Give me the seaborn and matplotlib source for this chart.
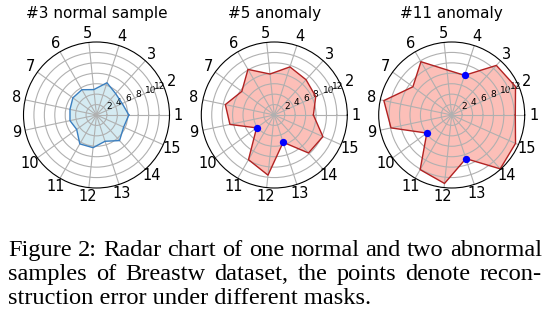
import numpy as np
import matplotlib
matplotlib.use("Agg")
import matplotlib.pyplot as plt
import seaborn as sns

# ---------------- data ----------------
dims = [str(i) for i in range(1, 16)]
normal_3 = [6.2, 5.4, 5.5, 6.5, 4.9, 5.6, 5.6, 5.2, 5.2, 4.7, 6.4, 6.3, 5.3, 6.6, 5.7]
anomaly_5 = [7.5, 8.7, 9.1, 9.7, 7.9, 10.1, 7.7, 9.6, 8.7, 4.2, 9.9, 11.6, 5.5, 9.8, 10.2]
anomaly_11 = [12.2, 13.4, 12.8, 8.0, 8.7, 11.8, 9.2, 13.3, 11.9, 5.9, 12.1, 13.2, 8.8, 13.9, 13.4]
dots_5 = [10, 13]          # 1-based masks marked with points
dots_11 = [4, 10, 13]
titles = ["#3 normal sample", "#5 anomaly", "#11 anomaly"]
r_ticks = [2, 4, 6, 8, 10, 12]
r_max = 14
caption_lines = [
    "Figure 2: Radar chart of one normal and two abnormal",
    "samples of Breastw dataset, the points denote recon-",
    "struction error under different masks.",
]

series = [normal_3, anomaly_5, anomaly_11]
dot_sets = [[], dots_5, dots_11]
fill_colors = [("lightblue", 0.5), ("salmon", 0.5), ("salmon", 0.5)]
edge_colors = ["#3b7fc0", "firebrick", "firebrick"]

W, H = 550, 322
fig = plt.figure(figsize=(W / 100, H / 100), dpi=100)
fig.patch.set_facecolor("white")

angles = np.linspace(0, 2 * np.pi, len(dims), endpoint=False)
centers_x = [96.5, 274.3, 451.7]
center_y = 115
R = 73

for k in range(3):
    cx = centers_x[k]
    ax = fig.add_axes([(cx - R) / W, (H - center_y - R) / H, 2 * R / W, 2 * R / H],
                      projection="polar")
    vals = np.array(series[k])
    th = np.concatenate([angles, angles[:1] + 2 * np.pi])
    rr = np.concatenate([vals, vals[:1]])
    fc, fa = fill_colors[k]
    ax.fill(th, rr, color=fc, alpha=fa, zorder=1, linewidth=0)
    sns.lineplot(x=th, y=rr, ax=ax, color=edge_colors[k], linewidth=1.0,
                 sort=False, estimator=None)
    if dot_sets[k]:
        idx = np.array(dot_sets[k]) - 1
        sns.scatterplot(x=angles[idx], y=vals[idx], ax=ax, color="blue",
                        s=28, linewidth=0, zorder=5)
    ax.set_xticks(angles)
    ax.set_xticklabels(dims, fontsize=10.5)
    ax.tick_params(axis="x", pad=-4)
    ax.set_yticks(r_ticks)
    ax.set_yticklabels([str(t) for t in r_ticks], fontsize=6.5)
    ax.set_ylim(0, r_max)
    ax.set_xlabel("")
    ax.set_ylabel("")
    ax.grid(True, color="#b0b0b0", linewidth=0.8)
    ax.set_title(titles[k], fontsize=11, y=1.0, pad=17)

# ---------------- caption (justified) ----------------
renderer = fig.canvas.get_renderer()
cap_left, cap_right = 8, 542
baselines = [256, 280, 304]
cap_font = dict(fontsize=17.6, family="Liberation Serif", va="baseline", ha="left",
                color="black")
for i, line in enumerate(caption_lines):
    y = 1 - baselines[i] / H
    if i == len(caption_lines) - 1:
        fig.text(cap_left / W, y, line, **cap_font)
        continue
    words = line.split(" ")
    texts = [fig.text(0, y, w, **cap_font) for w in words]
    widths = [t.get_window_extent(renderer).width for t in texts]
    gap = (cap_right - cap_left - sum(widths)) / (len(words) - 1)
    x = cap_left
    for t, w in zip(texts, widths):
        t.set_x(x / W)
        x += w + gap

fig.savefig("out.png", dpi=100, facecolor="white")
